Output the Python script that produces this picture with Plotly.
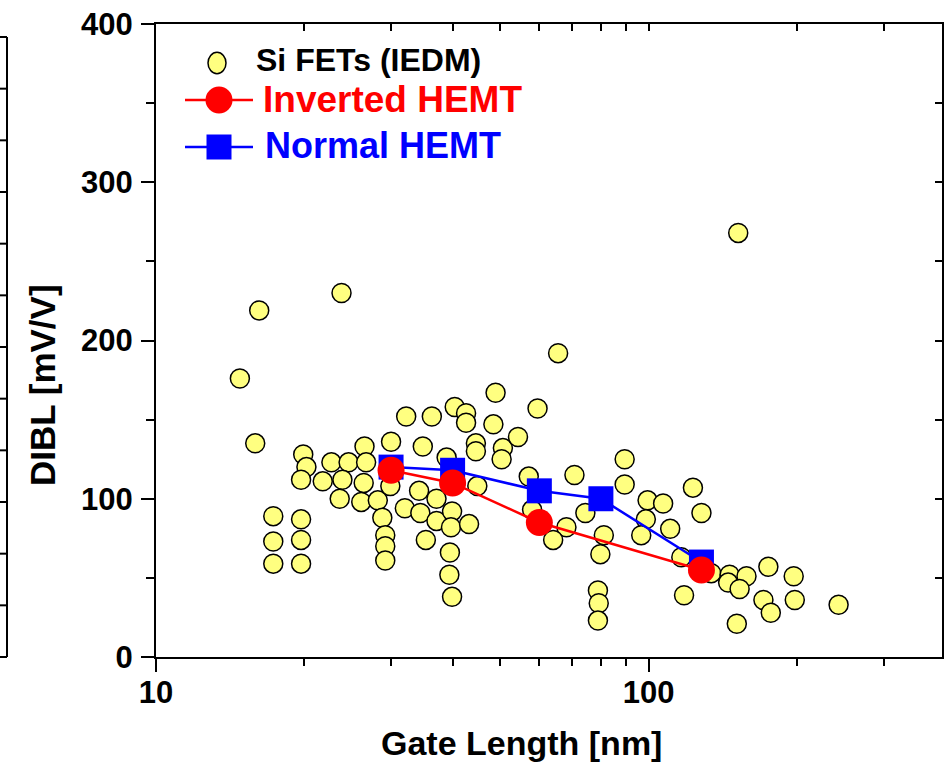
import plotly.graph_objects as go

# Si FETs reported at IEDM: gate length [nm] vs DIBL [mV/V]
si_lg = [16.2, 23.8, 14.8, 65.5, 48.9, 59.5, 40.4, 42.6, 32.2, 36.3, 152,
         15.9, 19.9, 20.2, 19.7, 21.8, 22.7, 24.6, 23.9, 23.6, 26.5, 26.7,
         26.4, 26.1, 28.2, 28.8, 29.2, 29.2, 29.2, 30.0, 29.9, 34.8, 32.0,
         34.2, 34.4, 35.3, 37.1, 37.1, 38.9, 39.9, 39.7, 44.9, 43.2, 39.5,
         39.4, 39.9, 42.6, 44.6, 44.6, 48.4, 50.6, 50.3, 54.3, 57.1, 58.0,
         17.3, 17.3, 17.3, 19.7, 19.7, 19.7, 70.7, 68.1, 64.0, 74.4, 81.1,
         79.8, 78.9, 79.2, 78.9, 89.4, 89.4, 99.5, 107, 98.7, 96.6, 110.6,
         123, 128, 116.5, 134, 118, 146, 145, 158, 153, 175, 197, 171, 177,
         198, 151, 243]
si_dibl = [219, 230, 176, 192, 167, 157, 158, 154, 152, 152, 268,
           135, 128, 120, 112, 111, 123, 123, 112, 100, 133, 123,
           110, 98, 99, 88, 77, 70, 61, 136, 108, 133, 94,
           105, 91, 74, 100, 86, 126, 92, 82, 108, 84, 66,
           52, 38, 148, 135, 130, 147, 132, 125, 139, 114, 93,
           89, 73, 59, 87, 74, 59, 115, 82, 74, 91, 77,
           65, 42, 34, 23, 125, 109, 99, 97, 87, 77, 81,
           107, 91, 63, 53, 39, 52, 47, 51, 43, 57, 51, 36, 28,
           36, 21, 33]

# HEMT devices
inv_lg = [30, 40, 60, 128]
inv_dibl = [118, 110, 85, 55]
norm_lg = [30, 40, 60, 80, 128]
norm_dibl = [120, 118, 105, 100, 60]

x_major = [10, 100]
x_minor = [20, 30, 40, 50, 60, 70, 80, 90, 200, 300]
y_major = [0, 100, 200, 300, 400]
y_minor = [50, 150, 250, 350]

FONT = "Liberation Sans, Arial, sans-serif"
YELLOW = "#FFFF80"

# plot-area geometry in pixels
W_FIG, H_FIG = 948, 764
PL, PR, PT, PB = 156, 942, 24, 657
PW, PH = PR - PL, PB - PT


def fx(px):
    return (px - PL) / PW


def fy(py):
    return (PB - py) / PH


fig = go.Figure()

fig.add_trace(go.Scatter(
    x=si_lg, y=si_dibl, mode="markers", name="Si FETs (IEDM)",
    marker=dict(symbol="circle", size=19, color=YELLOW,
                line=dict(color="black", width=1.5)),
    cliponaxis=False,
))
fig.add_trace(go.Scatter(
    x=norm_lg, y=norm_dibl, mode="lines+markers", name="Normal HEMT",
    line=dict(color="#0000FF", width=2.5),
    marker=dict(symbol="square", size=25, color="#0000FF", line=dict(width=0)),
))
fig.add_trace(go.Scatter(
    x=inv_lg, y=inv_dibl, mode="lines+markers", name="Inverted HEMT",
    line=dict(color="#FF0000", width=2.5),
    marker=dict(symbol="circle", size=27, color="#FF0000", line=dict(width=0)),
))
# empty trace that carries the top / right tick axes
fig.add_trace(go.Scatter(x=[], y=[], xaxis="x2", yaxis="y2",
                         showlegend=False, hoverinfo="skip"))

xrange_log = [1, 2.5955]
tickfont = dict(family=FONT, size=31, color="black", weight="bold")

fig.update_layout(
    width=W_FIG, height=H_FIG,
    margin=dict(l=PL, r=W_FIG - PR, t=PT, b=H_FIG - PB, pad=0),
    paper_bgcolor="white", plot_bgcolor="white",
    showlegend=False,
    xaxis=dict(
        type="log", range=xrange_log, showgrid=False, zeroline=False,
        showline=True, linecolor="black", linewidth=2,
        tickmode="array", tickvals=x_major, ticktext=[str(v) for v in x_major],
        ticks="outside", ticklen=13, tickwidth=2, tickcolor="black",
        minor=dict(tickmode="array", tickvals=x_minor, ticks="outside",
                   ticklen=7, tickwidth=2, tickcolor="black", showgrid=False),
        tickfont=tickfont, ticklabelstandoff=-6,
    ),
    yaxis=dict(
        range=[0, 400], showgrid=False, zeroline=False,
        showline=True, linecolor="black", linewidth=2,
        tickmode="array", tickvals=y_major, ticktext=[str(v) for v in y_major],
        ticks="outside", ticklen=13, tickwidth=2, tickcolor="black",
        minor=dict(tickmode="array", tickvals=y_minor, ticks="outside",
                   ticklen=8, tickwidth=2, tickcolor="black", showgrid=False),
        tickfont=tickfont, ticklabelstandoff=2,
    ),
    xaxis2=dict(
        type="log", range=xrange_log, overlaying="x", side="top", anchor="y2",
        showgrid=False, zeroline=False, showline=True, linecolor="black",
        linewidth=2, showticklabels=False,
        tickmode="array", tickvals=x_major + x_minor,
        ticks="inside", ticklen=7, tickwidth=2, tickcolor="black",
    ),
    yaxis2=dict(
        range=[0, 400], overlaying="y", side="right", anchor="x2",
        showgrid=False, zeroline=False, showline=True, linecolor="black",
        linewidth=2, showticklabels=False,
        tickmode="array", tickvals=sorted(y_major + y_minor),
        ticks="inside", ticklen=7, tickwidth=2, tickcolor="black",
    ),
)

annotations = [
    dict(text="Gate Length [nm]", x=fx(521), y=fy(743), xanchor="center",
         yanchor="middle", font=dict(family=FONT, size=34, color="black", weight="bold")),
    dict(text="DIBL [mV/V]", x=fx(43), y=fy(385), textangle=-90, xanchor="center",
         yanchor="middle", font=dict(family=FONT, size=35, color="black", weight="bold")),
    dict(text="Si FETs (IEDM)", x=fx(254), y=fy(60), xanchor="left", yanchor="middle",
         font=dict(family=FONT, size=32, color="black", weight="bold")),
    dict(text="Inverted HEMT", x=fx(261), y=fy(99), xanchor="left", yanchor="middle",
         font=dict(family=FONT, size=37, color="#FF0000", weight="bold")),
    dict(text="Normal HEMT", x=fx(263), y=fy(146), xanchor="left", yanchor="middle",
         font=dict(family=FONT, size=36, color="#0000FF", weight="bold")),
]
for a in annotations:
    a.update(xref="paper", yref="paper", showarrow=False)
fig.update_layout(annotations=annotations)

shapes = []


def px_marker(kind, cx, cy, w, h, fill, line_color=None, line_width=0):
    return dict(type=kind, xref="paper", yref="paper",
                xsizemode="pixel", ysizemode="pixel",
                xanchor=fx(cx), yanchor=fy(cy),
                x0=-w / 2, x1=w / 2, y0=-h / 2, y1=h / 2,
                fillcolor=fill,
                line=dict(color=line_color or fill, width=line_width))


# legend samples
shapes.append(px_marker("circle", 217, 63, 18, 21.5, YELLOW, "black", 1.5))
shapes.append(dict(type="line", xref="paper", yref="paper",
                   x0=fx(185), x1=fx(253), y0=fy(100), y1=fy(100),
                   line=dict(color="#FF0000", width=2.5)))
shapes.append(px_marker("circle", 219, 100, 27, 27, "#FF0000"))
shapes.append(dict(type="line", xref="paper", yref="paper",
                   x0=fx(185), x1=fx(253), y0=fy(147), y1=fy(147),
                   line=dict(color="#0000FF", width=2.5)))
shapes.append(px_marker("rect", 219, 147, 25, 25, "#0000FF"))

# edge of the neighbouring panel on the far left
shapes.append(dict(type="line", xref="paper", yref="paper",
                   x0=fx(7), x1=fx(7), y0=fy(37), y1=fy(657),
                   line=dict(color="black", width=2)))
for k in range(13):
    yy = 37 + k * (657 - 37) / 12
    shapes.append(dict(type="line", xref="paper", yref="paper",
                       x0=fx(0), x1=fx(7), y0=fy(yy), y1=fy(yy),
                       line=dict(color="black", width=2)))

fig.update_layout(shapes=shapes)

fig.write_html("out.html")
